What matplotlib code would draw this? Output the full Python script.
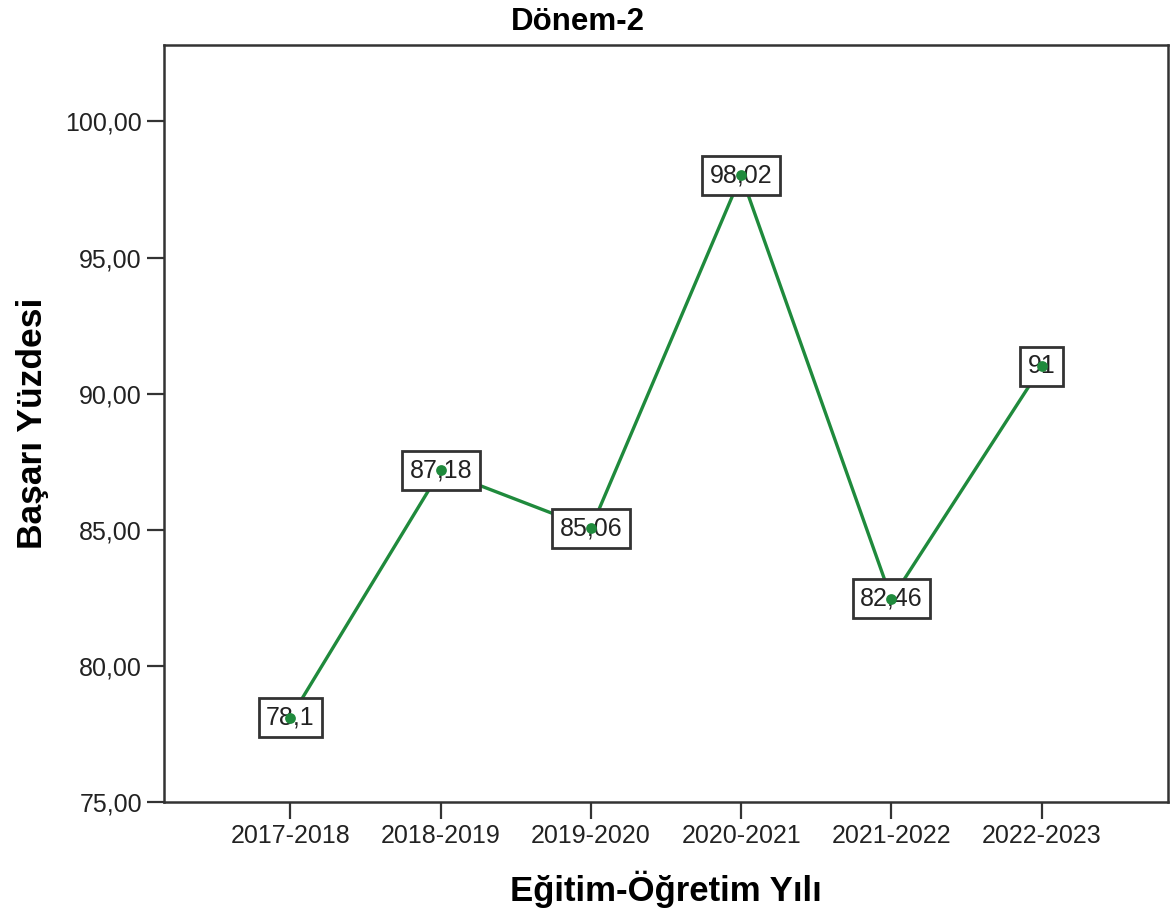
import matplotlib
matplotlib.use("Agg")
import matplotlib.pyplot as plt
from matplotlib.ticker import FuncFormatter

plt.rcParams["font.family"] = ["Liberation Sans", "DejaVu Sans"]

years = ["2017-2018", "2018-2019", "2019-2020", "2020-2021", "2021-2022", "2022-2023"]
success = [78.1, 87.18, 85.06, 98.02, 82.46, 91]
y_ticks = [75, 80, 85, 90, 95, 100]

line_color = "#1f8a3c"
frame_color = "#333333"


def fmt_value(v):
    # decimal comma, trailing zeros dropped
    s = f"{v:.2f}".rstrip("0").rstrip(".")
    return s.replace(".", ",")


fig = plt.figure(figsize=(11.73, 9.23), dpi=100)
ax = fig.add_axes([0.14, 0.131, 0.8557, 0.820])

xs = list(range(len(years)))
ax.plot(xs, success, color=line_color, linewidth=2.4, zorder=2)
ax.scatter(xs, success, s=60, color=line_color, zorder=4, linewidths=0)

for x, v in zip(xs, success):
    ax.text(x, v, fmt_value(v), ha="center", va="center", fontsize=18,
            color="#222222", zorder=3,
            bbox=dict(boxstyle="square,pad=0.3", facecolor="white",
                      edgecolor="#333333", linewidth=2))

ax.set_xlim(-0.84, 5.84)
ax.set_ylim(75, 102.8)
ax.set_xticks(xs)
ax.set_xticklabels(years)
ax.set_yticks(y_ticks)
ax.yaxis.set_major_formatter(FuncFormatter(lambda v, p: f"{v:.2f}".replace(".", ",")))

ax.tick_params(axis="both", direction="out", length=12, width=1.6,
               color=frame_color, labelsize=18, labelcolor="#222222", pad=4)
for sp in ax.spines.values():
    sp.set_color(frame_color)
    sp.set_linewidth(1.8)

fig.text(0.493, 0.976, "Dönem-2", ha="center", va="center",
         fontsize=22.5, fontweight="bold")
ax.set_ylabel("Başarı Yüzdesi", fontsize=25.5, fontweight="bold", labelpad=12)
ax.set_xlabel("Eğitim-Öğretim Yılı", fontsize=25, fontweight="bold", labelpad=16)

fig.savefig("out.png", dpi=100, facecolor="white")
